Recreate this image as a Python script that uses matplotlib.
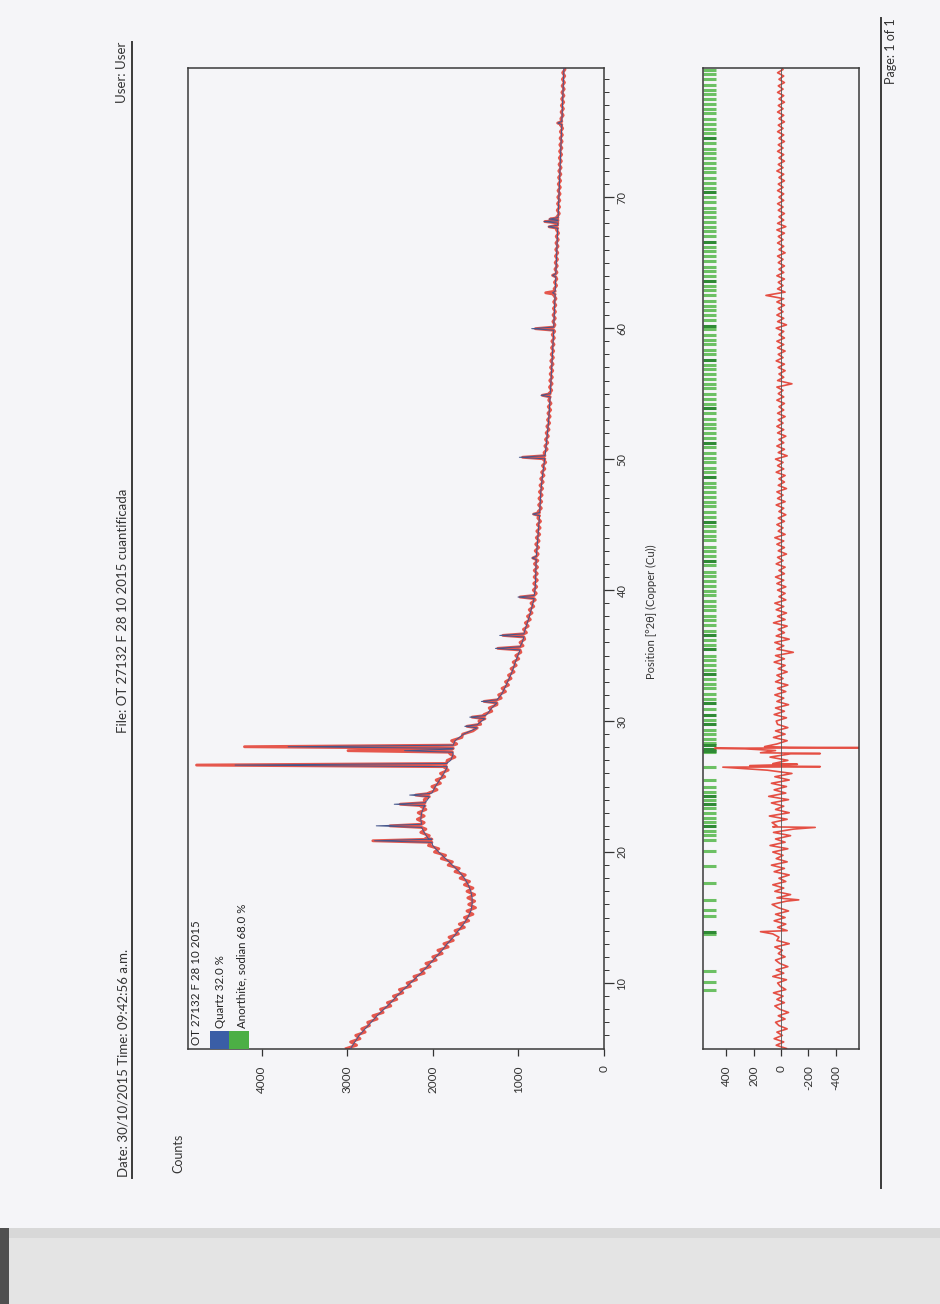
import numpy as np
import matplotlib
matplotlib.use("Agg")
import matplotlib.pyplot as plt
from matplotlib.patches import Rectangle
from matplotlib.lines import Line2D

plt.rcParams['font.family'] = ['Lato', 'DejaVu Sans']

# ---------------- data ----------------
# observed pattern, 0.25 deg steps from 5 to 80 deg 2theta
obs_step = 0.25
obs_counts = [
    3010, 2890, 2960, 2850, 2900, 2790, 2830, 2740, 2760, 2650, 2700, 2580, 2610, 2490, 2530, 2420, 2460, 2350, 2390, 2260,
    2300, 2190, 2220, 2100, 2140, 2030, 2080, 1960, 2000, 1890, 1940, 1820, 1870, 1760, 1810, 1700, 1740, 1630, 1690, 1580,
    1630, 1530, 1600, 1500, 1580, 1510, 1590, 1510, 1600, 1530, 1630, 1570, 1680, 1620, 1740, 1690, 1820, 1770, 1900, 1850,
    1980, 1930, 2050, 1990, 2090, 2040, 2140, 2080, 2170, 2100, 2180, 2100, 2170, 2080, 2140, 2050, 2100, 2000, 2050, 1950,
    2010, 1910, 1960, 1860, 1910, 1820, 1870, 1800, 1830, 1740, 1800, 1790, 1800, 1720, 1780, 1660, 1650, 1530, 1540, 1440,
    1460, 1370, 1400, 1310, 1340, 1250, 1280, 1200, 1230, 1150, 1190, 1115, 1150, 1085, 1115, 1050, 1085, 1025, 1060, 995,
    1030, 970, 1005, 945, 980, 925, 960, 905, 940, 885, 918, 860, 893, 840, 872, 820, 852, 802, 838, 790,
    825, 785, 820, 778, 815, 778, 814, 775, 812, 772, 810, 768, 803, 762, 797, 757, 790, 750, 784, 745,
    778, 740, 772, 735, 768, 731, 763, 727, 759, 722, 754, 716, 747, 709, 739, 700, 728, 690, 718, 680,
    708, 672, 699, 663, 690, 656, 683, 649, 675, 641, 667, 634, 659, 628, 654, 622, 650, 618, 645, 612,
    641, 610, 636, 605, 633, 602, 628, 598, 624, 594, 621, 590, 616, 587, 612, 583, 608, 579, 604, 575,
    600, 572, 596, 568, 594, 566, 590, 562, 587, 560, 585, 556, 582, 553, 578, 550, 576, 548, 572, 545,
    569, 542, 566, 539, 563, 536, 560, 533, 557, 530, 554, 527, 551, 524, 548, 521, 545, 518, 542, 515,
    539, 512, 536, 509, 533, 506, 530, 503, 527, 500, 524, 497, 521, 494, 518, 491, 515, 488, 512, 485,
    509, 482, 506, 479, 503, 476, 500, 473, 497, 470, 494, 467, 491, 464, 488, 461, 485, 458, 482, 455,
    470,
]

# calculated background, 0.5 deg steps from 5 to 80 deg 2theta
calc_step = 0.5
calc_background = [
    2960, 2910, 2860, 2790, 2720, 2650, 2570, 2490, 2420, 2340,
    2260, 2180, 2100, 2030, 1960, 1890, 1830, 1760, 1700, 1640,
    1590, 1555, 1540, 1540, 1555, 1585, 1630, 1690, 1770, 1850,
    1930, 2000, 2050, 2100, 2130, 2140, 2130, 2100, 2060, 2010,
    1970, 1920, 1870, 1830, 1790, 1760, 1760, 1740, 1640, 1500,
    1430, 1370, 1310, 1250, 1200, 1160, 1125, 1090, 1060, 1035,
    1005, 980, 955, 935, 920, 895, 870, 850, 830, 815,
    805, 800, 797, 795, 793, 790, 785, 778, 772, 766,
    760, 755, 750, 746, 742, 737, 730, 722, 712, 702,
    692, 683, 675, 668, 660, 652, 645, 640, 635, 630,
    626, 622, 618, 614, 610, 606, 602, 598, 594, 590,
    586, 583, 580, 577, 574, 571, 568, 565, 562, 559,
    556, 553, 550, 547, 544, 541, 538, 535, 532, 529,
    526, 523, 520, 517, 514, 511, 508, 505, 502, 499,
    496, 493, 490, 487, 484, 481, 478, 475, 472, 469,
    466,
]

# diffraction peaks: position (deg 2theta), base level, calculated top, observed top
peak_pos = np.array([20.86, 22.00, 23.65, 24.35, 26.64, 27.74, 28.04, 29.60, 30.30, 31.50,
                     35.55, 36.54, 39.47, 42.45, 45.80, 50.14, 54.87, 59.96, 62.70, 64.03,
                     67.74, 68.14, 68.32, 75.66])
peak_base = np.array([2010, 2130, 2090, 2040, 1840, 1770, 1760, 1480, 1390, 1250,
                      980, 935, 815, 790, 752, 690, 628, 586, 570, 562,
                      540, 538, 537, 492])
peak_calc = np.array([2680, 2660, 2450, 2270, 4310, 2330, 3690, 1626, 1568, 1432,
                      1268, 1218, 1004, 840, 832, 988, 735, 844, 600, 600,
                      650, 700, 640, 540])
peak_obs = np.array([2700, 2500, 2380, 2200, 4760, 2990, 4200, 1600, 1540, 1400,
                     1240, 1180, 980, 830, 820, 950, 720, 800, 680, 600,
                     640, 690, 630, 540])

# difference (obs - calc), 0.25 deg steps from 5 to 80 deg 2theta
residual = [
    -40, 35, -20, 50, -10, 30, -45, 15, 40, -30, 20, -55, 10, 45, -25, 30, -15, 55, -35, 5,
    25, -40, 60, -20, 35, -50, 10, 40, -30, 20, -10, 45, -60, 30, 15, 60, -45, 25, -35, 50,
    -30, 40, -55, 20, 65, -40, 30, -70, 45, -20, 60, -35, 15, -60, 50, -25, 70, -45, 35, -15,
    60, -50, 80, -30, 40, -70, 55, -90, 30, 65, -45, 85, -60, 40, -20, 70, -55, 90, -35, 50,
    -40, 70, -60, 45, -80, 100, -90, 60, -50, 80, -70, 40, -60, 30, -45, 55, -30, 40, -50, 25,
    35, -40, 50, -25, 40, -55, 30, -20, 45, -35, 25, -50, 40, -15, 30, -45, 20, -30, 50, -25,
    40, -90, 30, -20, 45, -60, 35, -25, 20, -45, 55, -30, 25, -40, 35, -20, 45, -35, 15, -30,
    25, -35, 30, -20, 40, -25, 15, -30, 35, -15, 25, -40, 20, -25, 30, -20, 45, -30, 20, -15,
    30, -25, 20, -35, 15, -20, 35, -30, 25, -15, 30, -40, 20, -25, 15, -30, 35, -20, 25, -15,
    40, -45, 20, -25, 30, -20, 15, -35, 25, -20, 30, -15, 20, -30, 25, -20, 15, -25, 30, -20,
    20, -15, 30, -80, 25, -20, 15, -30, 20, -25, 35, -15, 20, -30, 25, -20, 30, -25, 15, -20,
    35, -40, 25, -20, 30, -15, 20, -25, 30, -20, 110, -30, 25, -15, 20, -25, 30, -20, 15, -25,
    20, -15, 25, -30, 15, -20, 25, -15, 20, -25, 30, -35, 25, -20, 15, -25, 20, -15, 25, -20,
    15, -20, 25, -15, 20, -25, 15, -20, 30, -15, 20, -25, 15, -20, 25, -15, 20, -25, 15, -20,
    25, -15, 20, -25, 15, -20, 25, -15, 20, -25, 15, -20, 25, -15, 20, -25, 15, -20, 25, -15,
    10,
]
resid_spike_pos = [13.92, 16.35, 21.88, 21.92, 26.48, 26.52, 26.60, 26.70, 27.52, 27.58, 27.88, 27.92, 27.97, 28.05]
resid_spike_val = [150, -130, -250, 60, 425, -287, 228, -120, -287, 150, 264, 485, -570, 120]

# Anorthite reference line positions (deg 2theta)
anorthite_strong = [13.90, 22.00, 23.70, 24.30, 27.75, 27.90, 28.20, 29.80, 30.50, 31.40, 33.60, 35.50,
                    36.60, 42.20, 45.20, 48.60, 51.20, 53.90, 57.60, 60.20, 63.60, 66.60, 70.40, 74.50]
anorthite_lines = [9.5, 10.1, 10.9, 13.75, 15.1, 15.6, 16.3, 17.6, 18.9, 20.1, 20.9, 21.3, 21.6, 22.3, 22.6,
                   23.0, 23.4, 24.0, 24.6, 25.0, 25.5, 26.5, 27.6, 28.3,
                   28.6, 29.0, 29.3, 30.1, 30.9, 31.7, 32.1, 32.5, 32.8, 33.2, 33.9, 34.3, 34.7,
                   35.0, 35.8, 36.2, 36.9, 37.3, 37.7, 38.0, 38.5, 38.8, 39.2, 39.6, 39.9, 40.3, 40.7,
                   41.1, 41.4, 41.9, 42.6, 43.0, 43.3, 43.8, 44.1, 44.5, 44.9, 45.6, 46.0, 46.4,
                   46.7, 47.1, 47.5, 47.9, 48.2, 49.0, 49.3, 49.8, 50.1, 50.5, 50.9, 51.6, 52.0,
                   52.4, 52.7, 53.1, 53.5, 54.2, 54.6, 55.0, 55.4, 55.7, 56.1, 56.5, 56.9, 57.2,
                   58.0, 58.3, 58.8, 59.1, 59.5, 59.9, 60.6, 61.0, 61.4, 61.7, 62.1, 62.5, 62.9,
                   63.2, 64.0, 64.4, 64.7, 65.1, 65.5, 65.9, 66.2, 67.0, 67.4, 67.7, 68.1, 68.5,
                   68.9, 69.2, 69.6, 70.0, 70.7, 71.1, 71.5, 71.9, 72.2, 72.6, 73.0, 73.4, 73.7,
                   74.1, 74.9, 75.2, 75.6, 76.0, 76.4, 76.7, 77.1, 77.5, 77.9, 78.2, 78.6, 79.0,
                   79.4, 79.7]

count_ticks = [0, 1000, 2000, 3000, 4000]
theta_ticks = [10, 20, 30, 40, 50, 60, 70]
resid_ticks = [400, 200, 0, -200, -400]

header_left = "Date: 30/10/2015 Time: 09:42:56 a.m."
header_mid = "File: OT 27132 F 28 10 2015 cuantificada"
header_right = "User: User"
footer = "Page: 1 of 1"
legend_title = "OT 27132 F 28 10 2015"
legend_items = ["Quartz 32.0 %", "Anorthite, sodian 68.0 %"]
legend_colors = ["#3a5ea6", "#4caf45"]

# ---------------- helpers ----------------
W, H = 940, 1304
def fx(px):
    return px / W
def fy(py):
    return 1 - py / H

def merge_peaks(x0, step, vals, top, hw=0.12):
    x = x0 + step * np.arange(len(vals))
    v = np.asarray(vals, dtype=float)
    keep = np.ones(len(x), bool)
    for p in peak_pos:
        keep &= np.abs(x - p) > hw
    xs = np.concatenate([x[keep], peak_pos - hw, peak_pos, peak_pos + hw])
    ys = np.concatenate([v[keep], peak_base, top, peak_base])
    o = np.argsort(xs, kind="stable")
    return xs[o], ys[o]

obs_t, obs_c = merge_peaks(5.0, obs_step, obs_counts, peak_obs)
calc_t, calc_c = merge_peaks(5.0, calc_step, calc_background, peak_calc)

res_t = 5.0 + obs_step * np.arange(len(residual))
rt = np.concatenate([res_t, resid_spike_pos])
rv = np.concatenate([np.asarray(residual, float), resid_spike_val])
o = np.argsort(rt, kind="stable")
rt, rv = rt[o], rv[o]

# ---------------- figure ----------------
fig = plt.figure(figsize=(9.4, 13.04), dpi=100)
fig.patch.set_facecolor("#f5f5f8")
# scanner margin at the bottom of the page
fig.patches.append(Rectangle((0, 0), 1, fy(1228), transform=fig.transFigure,
                             facecolor="#d8d8d8", edgecolor="none", zorder=-5))
fig.patches.append(Rectangle((0, 0), 1, fy(1238), transform=fig.transFigure,
                             facecolor="#e4e4e4", edgecolor="none", zorder=-4))
fig.patches.append(Rectangle((0, 0), fx(9), fy(1228), transform=fig.transFigure,
                             facecolor="#505050", edgecolor="none", zorder=-3))

spine_c = "#3a3a3a"

# main pattern axes (rotated page: counts run right->left, 2theta bottom->top)
ax = fig.add_axes([fx(188), fy(1048.5), fx(603.9 - 188), (1048.5 - 67.5) / H])
ax.set_facecolor("none")
ax.plot(obs_c, obs_t, color="#e4463a", lw=2.1, alpha=0.9, zorder=2)
ax.plot(calc_c, calc_t, color="#45568c", lw=0.7, zorder=3)
ax.set_xlim(4860, 0)
ax.set_ylim(5.0, 79.9)
ax.set_xticks(count_ticks)
ax.set_xticklabels([str(t) for t in count_ticks], rotation=90, va="top", ha="center")
ax.tick_params(axis="x", direction="out", length=5, width=0.9, pad=7, labelsize=8.5, colors="#333333")
ax.yaxis.tick_right()
ax.set_yticks(theta_ticks)
ax.set_yticks(np.arange(6, 80, 1), minor=True)
ax.set_yticklabels([str(t) for t in theta_ticks], rotation=90, va="center", ha="left")
ax.tick_params(axis="y", which="major", direction="out", length=7, width=0.9, pad=2, labelsize=8, colors="#333333")
ax.tick_params(axis="y", which="minor", direction="out", length=3.5, width=0.7, colors="#333333")
for s in ax.spines.values():
    s.set_color(spine_c)
    s.set_linewidth(1.1)

# residual axes
axr = fig.add_axes([fx(702.7), fy(1048.5), fx(859.3 - 702.7), (1048.5 - 67.5) / H])
axr.set_facecolor("none")
axr.hlines(anorthite_lines, 478, 572, colors="#6cc064", lw=2.2, zorder=1)
axr.hlines(anorthite_strong, 478, 572, colors="#2f8a35", lw=2.2, zorder=1)
axr.plot(rv, rt, color="#e4463a", lw=1.2, alpha=0.95, zorder=2)
axr.axvline(0, color="#555555", lw=0.6, zorder=3)
axr.set_xlim(572, -572)
axr.set_ylim(5.0, 79.9)
axr.set_xticks(resid_ticks)
axr.set_xticklabels([str(t) for t in resid_ticks], rotation=90, va="top", ha="center")
axr.tick_params(axis="x", direction="out", length=5, width=0.9, pad=7, labelsize=8.5, colors="#333333")
axr.set_yticks([])
for s in axr.spines.values():
    s.set_color(spine_c)
    s.set_linewidth(1.1)

# legend (top-left corner of the original page orientation)
fig.text(fx(197), fy(1045), legend_title, rotation=90, ha="center", va="bottom", fontsize=8.3, color="#222222")
sw_x = [210, 229]
for i, (lab, col) in enumerate(zip(legend_items, legend_colors)):
    fig.patches.append(Rectangle((fx(sw_x[i]), fy(1048.5)), fx(20), 18 / H, transform=fig.transFigure,
                                 facecolor=col, edgecolor="none", zorder=5))
    fig.text(fx(221 + 21 * i), fy(1028), lab, rotation=90, ha="center", va="bottom", fontsize=8.3, color="#222222")

# axis titles
fig.text(fx(178), fy(1173), "Counts", rotation=90, ha="center", va="bottom", fontsize=9, color="#333333")
fig.text(fx(651), fy(612), "Position [°2θ] (Copper (Cu))", rotation=90, ha="center", va="center",
         fontsize=8, color="#333333")

# header / footer
fig.text(fx(123), fy(1177), header_left, rotation=90, ha="center", va="bottom", fontsize=9.5, color="#333333")
fig.text(fx(123), fy(733), header_mid, rotation=90, ha="center", va="bottom", fontsize=9.5, color="#333333")
fig.text(fx(122), fy(42), header_right, rotation=90, ha="center", va="top", fontsize=9.5, color="#333333")
fig.lines.append(Line2D([fx(131.5), fx(131.5)], [fy(42), fy(1178)], transform=fig.transFigure,
                        color="#3a3a3a", lw=1.4))
fig.lines.append(Line2D([fx(880.5), fx(880.5)], [fy(18), fy(1188)], transform=fig.transFigure,
                        color="#3a3a3a", lw=1.4))
fig.text(fx(891), fy(18), footer, rotation=90, ha="center", va="top", fontsize=9, color="#333333")

fig.savefig("out.png", dpi=100, facecolor=fig.get_facecolor())
